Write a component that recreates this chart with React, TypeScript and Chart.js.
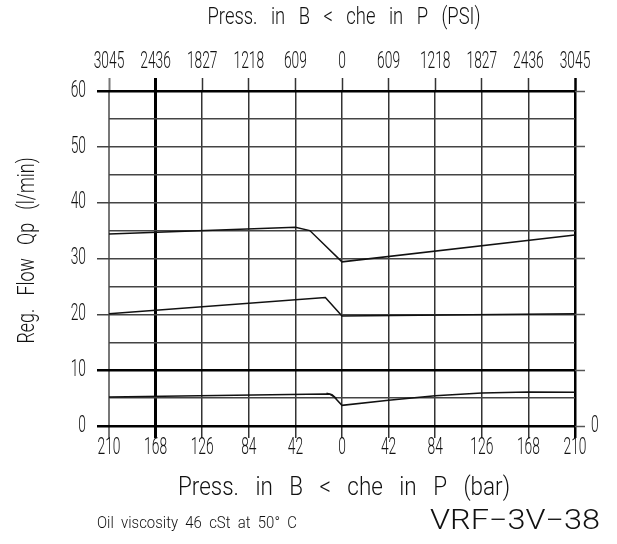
import React, { useEffect, useRef } from "react";
import { Chart, registerables } from "chart.js";

Chart.register(...registerables);

// Bottom axis: pressure in bar (negative = left side, B side)
const barTicks = [-210, -168, -126, -84, -42, 0, 42, 84, 126, 168, 210];
const psiPerBar = 609 / 42;
const yTicksMajor = [0, 10, 20, 30, 40, 50, 60];

// Curves: x in bar, y in l/min
const curve1X = [-210, -42, -29, 0, 210];
const curve1Y = [34.4, 35.6, 35.0, 29.4, 34.2];

const curve2X = [-210, -15, 0, 210];
const curve2Y = [20.1, 23.0, 19.7, 20.1];

const curve3X = [-210, -15, -11, -7, 0, 42, 84, 126, 168, 210];
const curve3Y = [5.2, 5.75, 5.7, 5.2, 3.7, 4.6, 5.4, 5.9, 6.1, 6.05];

const curve4X = [-14, -9, -5];
const curve4Y = [5.85, 5.6, 4.9];

const topTitle = "Press.   in   B   <   che   in   P   (PSI)";
const bottomTitle = "Press.   in   B   <   che   in   P   (bar)";
const yTitle = "Reg.   Flow   Qp   (l/min)";
const footNote = "Oil  viscosity  46  cSt  at  50°  C";
const codeLabel = "VRF−3V−38";

const FONT = "Roboto, 'DejaVu Sans Condensed', sans-serif";
const TICK_SIZE = 23;
const TICK_SX = 0.6;

const toPts = (xs: number[], ys: number[]) => xs.map((x, i) => ({ x, y: ys[i] }));

const vColor = (v: number) => (v === -210 ? "#777" : v === -168 || v === 210 ? "#000" : "#333");
const vWidth = (v: number) => (v === -210 ? 2 : v === -168 ? 3 : v === 210 ? 2.5 : 1.5);
const hColor = (v: number) => (v === 0 || v === 10 || v === 60 ? "#000" : "#444");
const hWidth = (v: number) => (v === 0 || v === 10 || v === 60 ? 2.5 : 1.5);

// draw text compressed horizontally (narrow CAD-like lettering)
function drawNarrow(ctx: any, text: string, x: number, y: number, size: number, sx: number, align: string) {
  ctx.save();
  ctx.font = `300 ${size}px ${FONT}`;
  ctx.textAlign = align;
  ctx.textBaseline = "middle";
  ctx.translate(x, y);
  ctx.scale(sx, 1);
  ctx.fillText(text, 0, 0);
  ctx.restore();
}

// draw text compressed so that it spans a target width
function drawFit(ctx: any, text: string, x: number, y: number, size: number, width: number, align: string) {
  ctx.save();
  ctx.font = `300 ${size}px ${FONT}`;
  const w = ctx.measureText(text).width;
  ctx.restore();
  drawNarrow(ctx, text, x, y, size, width / w, align);
}

const labelPlugin = {
  id: "narrowLabels",
  afterDraw(chart: any) {
    const { ctx, chartArea, scales } = chart;
    const { left, right, top, bottom } = chartArea;
    ctx.save();
    ctx.fillStyle = "#111";
    // tick labels
    for (const t of scales.x.ticks) {
      if (!t.label) continue;
      drawNarrow(ctx, t.label, scales.x.getPixelForValue(t.value), bottom + 22, TICK_SIZE, TICK_SX, "center");
    }
    for (const t of scales.x2.ticks) {
      if (!t.label) continue;
      drawNarrow(ctx, t.label, scales.x2.getPixelForValue(t.value), top - 29, TICK_SIZE, TICK_SX, "center");
    }
    for (const t of scales.y.ticks) {
      if (!t.label) continue;
      drawNarrow(ctx, t.label, left - 23, scales.y.getPixelForValue(t.value), TICK_SIZE, TICK_SX, "right");
    }
    for (const t of scales.y2.ticks) {
      if (!t.label) continue;
      drawNarrow(ctx, t.label, right + 16, scales.y2.getPixelForValue(t.value), TICK_SIZE, TICK_SX, "left");
    }
    // titles and notes
    const cx = (left + right) / 2;
    drawFit(ctx, topTitle, cx + 2, top - 73, 23, 273, "center");
    drawFit(ctx, bottomTitle, cx + 2, bottom + 62, 26, 332, "center");
    drawFit(ctx, footNote, left - 12, bottom + 98, 17, 200, "left");
    drawFit(ctx, codeLabel, right + 25, bottom + 96, 27, 170, "right");
    ctx.save();
    ctx.translate(left - 81, (top + bottom) / 2 - 8);
    ctx.rotate(-Math.PI / 2);
    drawFit(ctx, yTitle, 0, 0, 23, 186, "center");
    ctx.restore();
    ctx.restore();
  },
};

export default function App() {
  const ref = useRef<HTMLCanvasElement>(null);
  useEffect(() => {
    if (!ref.current) return;
    const line = (xs: number[], ys: number[]) => ({
      data: toPts(xs, ys),
      borderColor: "#111",
      borderWidth: 1.5,
      pointRadius: 0,
      tension: 0,
      fill: false,
    });
    const chart = new Chart(ref.current, {
      type: "line",
      data: {
        datasets: [
          line(curve1X, curve1Y),
          line(curve2X, curve2Y),
          line(curve3X, curve3Y),
          line(curve4X, curve4Y),
        ],
      },
      options: {
        animation: false,
        responsive: false,
        devicePixelRatio: 1,
        layout: { padding: 0 },
        plugins: { legend: { display: false }, tooltip: { enabled: false } },
        scales: {
          x: {
            type: "linear",
            position: "bottom",
            min: -210,
            max: 210,
            afterBuildTicks: (s: any) => {
              s.ticks = barTicks.map((v) => ({ value: v }));
            },
            afterFit: (s: any) => {
              s.height = 118;
            },
            ticks: {
              display: false,
              callback: (v: any) => String(Math.abs(Number(v))),
              autoSkip: false,
            },
            grid: {
              color: (c: any) => vColor(c.tick?.value),
              lineWidth: (c: any) => vWidth(c.tick?.value),
              tickColor: (c: any) => vColor(c.tick?.value),
              tickWidth: (c: any) => vWidth(c.tick?.value),
              tickLength: 12,
            },
            border: { display: false },
          },
          x2: {
            type: "linear",
            position: "top",
            min: -210,
            max: 210,
            afterBuildTicks: (s: any) => {
              s.ticks = barTicks.map((v) => ({ value: v }));
            },
            afterFit: (s: any) => {
              s.height = 91;
            },
            ticks: {
              display: false,
              callback: (v: any) => String(Math.round(Math.abs(Number(v)) * psiPerBar)),
              autoSkip: false,
            },
            grid: {
              drawOnChartArea: false,
              tickColor: (c: any) => vColor(c.tick?.value),
              tickWidth: (c: any) => vWidth(c.tick?.value),
              tickLength: 13,
            },
            border: { display: false },
          },
          y: {
            type: "linear",
            position: "left",
            min: 0,
            max: 60,
            ticks: {
              display: false,
              stepSize: 5,
              callback: (v: any) => (yTicksMajor.includes(Number(v)) ? String(v) : ""),
            },
            afterFit: (s: any) => {
              s.width = 109;
            },
            grid: {
              color: (c: any) => hColor(c.tick?.value),
              lineWidth: (c: any) => hWidth(c.tick?.value),
              tickColor: (c: any) =>
                yTicksMajor.includes(c.tick?.value) ? hColor(c.tick?.value) : "rgba(0,0,0,0)",
              tickWidth: (c: any) => hWidth(c.tick?.value),
              tickLength: 12,
            },
            border: { display: false },
          },
          y2: {
            type: "linear",
            position: "right",
            min: 0,
            max: 60,
            ticks: {
              display: false,
              stepSize: 5,
              callback: (v: any) => (Number(v) === 0 ? "0" : ""),
            },
            afterFit: (s: any) => {
              s.width = 42;
            },
            grid: {
              drawOnChartArea: false,
              tickColor: (c: any) =>
                yTicksMajor.includes(c.tick?.value) ? "#555" : "rgba(0,0,0,0)",
              tickWidth: 1.5,
              tickLength: 10,
            },
            border: { display: false },
          },
        },
      },
      plugins: [labelPlugin],
    } as any);
    return () => chart.destroy();
  }, []);
  return (
    <div style={{ position: "absolute", left: 0, top: 0, width: 617, height: 544, background: "#fff" }}>
      <canvas ref={ref} width={617} height={544} style={{ width: 617, height: 544 }} />
    </div>
  );
}
